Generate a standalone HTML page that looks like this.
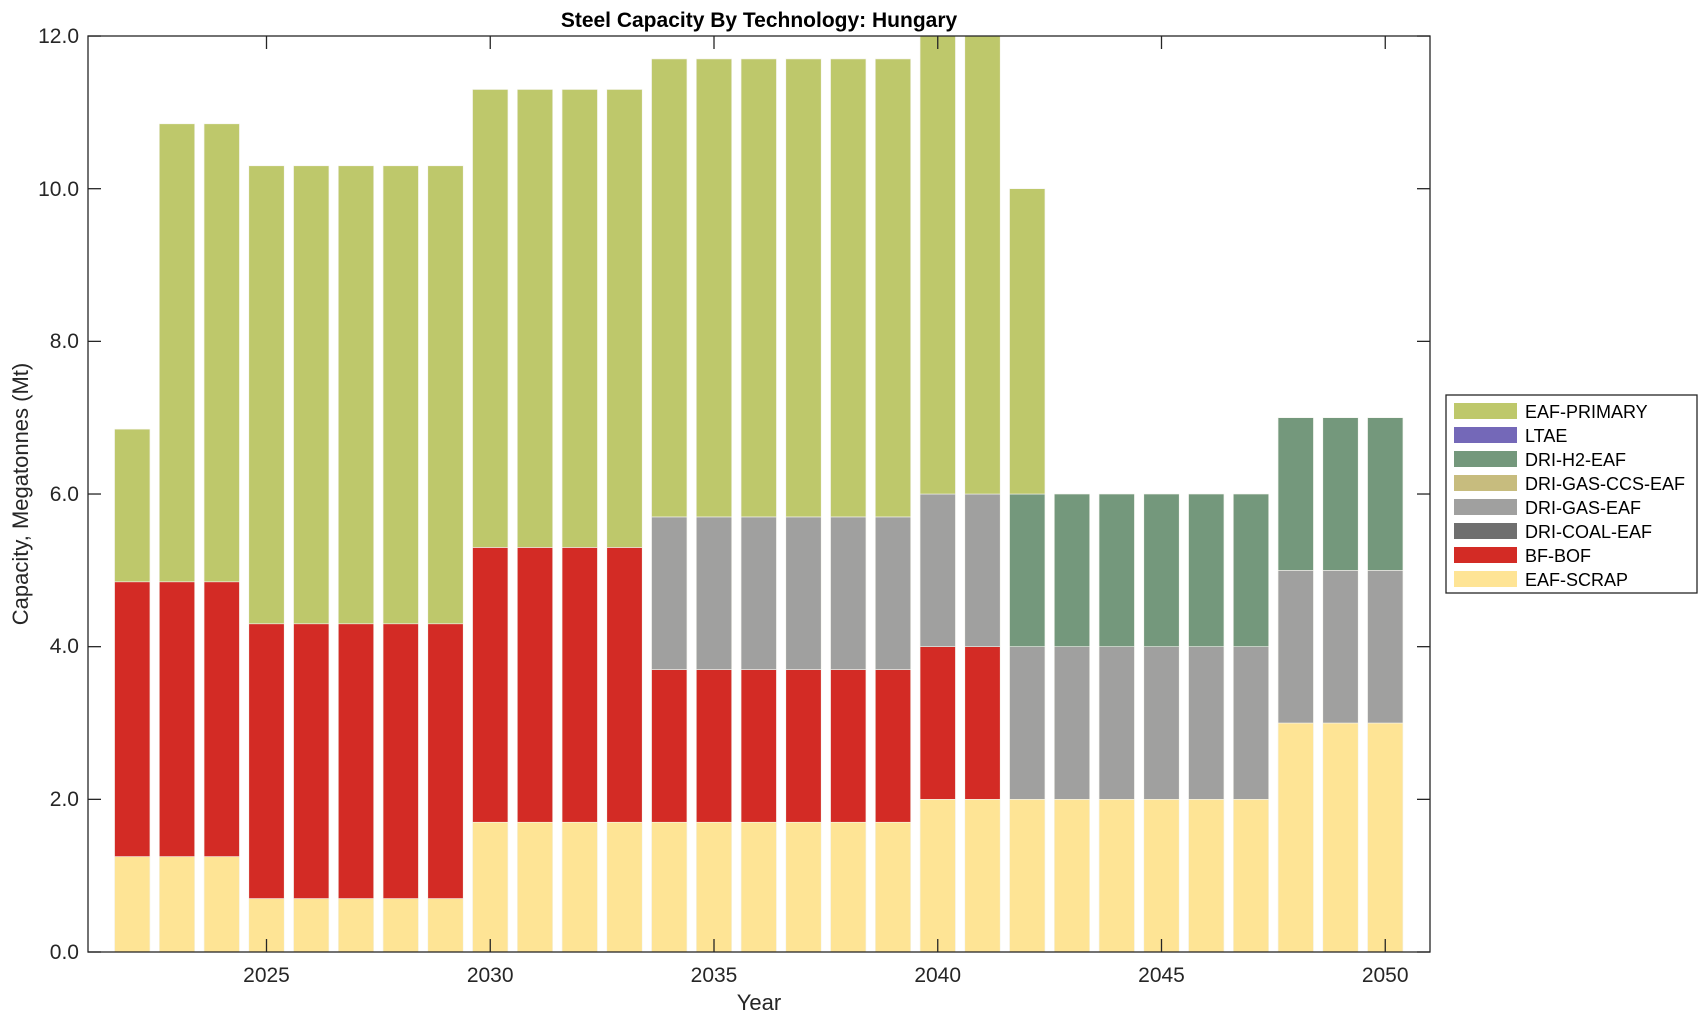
<!DOCTYPE html>
<html><head><meta charset="utf-8"><style>
html,body{margin:0;padding:0;background:#fff;}
svg{display:block;font-family:"Liberation Sans",Arial,sans-serif;}
</style></head><body>
<svg id="s" width="1708" height="1021" viewBox="0 0 1708 1021" xmlns="http://www.w3.org/2000/svg">
<rect width="1708" height="1021" fill="#fff"/>
<g id="bars"></g>
<rect x="88" y="36" width="1342" height="916" fill="none" stroke="#262626" stroke-width="1.3"/>
<g stroke="#262626" stroke-width="1.3" id="ticks"></g>
<g font-size="21" fill="#262626" text-anchor="end">
<text x="79" y="959">0.0</text>
<text x="79" y="806">2.0</text>
<text x="79" y="653">4.0</text>
<text x="79" y="501">6.0</text>
<text x="79" y="348">8.0</text>
<text x="79" y="196">10.0</text>
<text x="79" y="43">12.0</text>
</g>
<g font-size="21" fill="#262626" text-anchor="middle">
<text x="266.5" y="982">2025</text>
<text x="490.2" y="982">2030</text>
<text x="714" y="982">2035</text>
<text x="937.7" y="982">2040</text>
<text x="1161.5" y="982">2045</text>
<text x="1385.2" y="982">2050</text>
<text x="759" y="1010" font-size="22">Year</text>
<text x="759" y="27" font-size="21" font-weight="bold" fill="#000">Steel Capacity By Technology: Hungary</text>
<text transform="translate(28,494) rotate(-90)" font-size="22">Capacity, Megatonnes (Mt)</text>
</g>
<rect x="1446" y="395" width="251" height="198" fill="#fff" stroke="#262626" stroke-width="1.3"/>
<g font-size="18" fill="#000">
<rect x="1454" y="403" width="63" height="16" fill="#bec86b"/><text x="1525" y="418">EAF-PRIMARY</text>
<rect x="1454" y="427" width="63" height="16" fill="#7468b8"/><text x="1525" y="442">LTAE</text>
<rect x="1454" y="451" width="63" height="16" fill="#74987c"/><text x="1525" y="466">DRI-H2-EAF</text>
<rect x="1454" y="475" width="63" height="16" fill="#c7bc7e"/><text x="1525" y="490">DRI-GAS-CCS-EAF</text>
<rect x="1454" y="499" width="63" height="16" fill="#a0a09f"/><text x="1525" y="514">DRI-GAS-EAF</text>
<rect x="1454" y="523" width="63" height="16" fill="#6f6f6f"/><text x="1525" y="538">DRI-COAL-EAF</text>
<rect x="1454" y="547" width="63" height="16" fill="#d32b25"/><text x="1525" y="562">BF-BOF</text>
<rect x="1454" y="571" width="63" height="16" fill="#fee495"/><text x="1525" y="586">EAF-SCRAP</text>
</g>
<script>
(function(){
var ns="http://www.w3.org/2000/svg";
var X=function(y){return 266.5+(y-2025)*44.75;};
var Y=function(v){return 952-v*76.33;};
var col=["#fee495","#d32b25","#a0a09f","#74987c","#bec86b"];
var d={};
function set(a,b,v){for(var y=a;y<=b;y++)d[y]=v;}
set(2022,2022,[1.25,3.6,0,0,2.0]);
set(2023,2024,[1.25,3.6,0,0,6.0]);
set(2025,2029,[0.7,3.6,0,0,6.0]);
set(2030,2033,[1.7,3.6,0,0,6.0]);
set(2034,2039,[1.7,2.0,2.0,0,6.0]);
set(2040,2041,[2,2,2,0,6]);
set(2042,2042,[2,0,2,2,4]);
set(2043,2047,[2,0,2,2,0]);
set(2048,2050,[3,0,2,2,0]);
var g=document.getElementById("bars");
for(var y=2022;y<=2050;y++){var c=0;for(var i=0;i<5;i++){var v=d[y][i];if(!v)continue;
var r=document.createElementNS(ns,"rect");var top=Y(c+v),bot=Y(c);
r.setAttribute("x",X(y)-17.7);r.setAttribute("width",35.4);r.setAttribute("y",Math.max(top,36));r.setAttribute("height",bot-Math.max(top,36));
r.setAttribute("fill",col[i]);r.setAttribute("stroke","#f4f4ee");r.setAttribute("stroke-width","0.6");g.appendChild(r);c+=v;}}
var t=document.getElementById("ticks");
function ln(a,b,c2,e){var l=document.createElementNS(ns,"line");l.setAttribute("x1",a);l.setAttribute("y1",b);l.setAttribute("x2",c2);l.setAttribute("y2",e);t.appendChild(l);}
for(var k=0;k<=6;k++){var yy=Y(k*2);ln(88,yy,101,yy);ln(1430,yy,1417,yy);}
for(var y2=2025;y2<=2050;y2+=5){var xx=X(y2);ln(xx,952,xx,939);ln(xx,36,xx,49);}
})();
</script>
</svg>
</body></html>
